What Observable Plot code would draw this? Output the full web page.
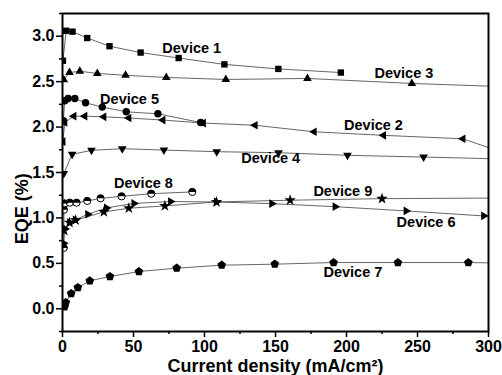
<!DOCTYPE html>
<html><head><meta charset="utf-8">
<script src="https://cdn.jsdelivr.net/npm/d3@7"></script>
<script src="https://cdn.jsdelivr.net/npm/@observablehq/plot@0.6"></script>
<style>body{margin:0;background:#fff}svg{font-family:"Liberation Sans",Arial,sans-serif}svg text{font-weight:bold}g[aria-label="x-axis label"] text{font-size:18px}g[aria-label="y-title"] text{font-size:18px}</style>
</head><body><div id="chart"></div>
<script>
// [current density (mA/cm²), EQE (%)]
const device1 = [[0.3,2.73],[2.6,3.06],[7.05,3.05],[17.4,2.98],[33.1,2.89],[55,2.82],[81.8,2.76],[114,2.69],[152,2.64],[196,2.60]];
const device2 = [[0.3,1.84],[1.6,2.05],[8.0,2.12],[15.7,2.12],[29.1,2.113],[46.7,2.10],[70.7,2.077],[99.2,2.044],[135.6,2.02],[177.2,1.948],[226.1,1.909],[282,1.871],[310,1.72]];
const device3 = [[0.9,2.52],[4.9,2.60],[12.2,2.615],[24.5,2.59],[44.4,2.57],[73.1,2.546],[115,2.524],[172.5,2.535],[246,2.48],[320,2.44]];
const device4 = [[0.9,1.49],[6.8,1.70],[20.4,1.744],[42.1,1.762],[71.4,1.747],[108.6,1.729],[152.1,1.718],[200.7,1.689],[254.3,1.670],[320,1.645]];
const device5 = [[0.6,2.07],[1.6,2.29],[4.0,2.315],[8.7,2.315],[16.2,2.267],[28,2.22],[44.9,2.168],[67.2,2.146],[97.3,2.05]];
const device6 = [[0.8,0.72],[1.6,0.88],[5,0.95],[9,0.98],[17.8,1.04],[31,1.11],[50.3,1.16],[76.1,1.18],[108.4,1.176],[147.4,1.157],[192,1.124],[242,1.077],[296.6,1.022],[320,0.99]];
const device7 = [[1.4,0.022],[2.3,0.069],[6.1,0.168],[10.8,0.234],[19.2,0.308],[33.4,0.355],[53.8,0.41],[80.4,0.447],[112.1,0.48],[149.5,0.491],[190.9,0.509],[236.2,0.509],[285.8,0.509],[320,0.50]];
const device8 = [[0.9,0.67],[1.0,1.09],[1.6,1.16],[5.1,1.168],[9.9,1.168],[17.4,1.187],[26.8,1.216],[41.6,1.238],[62.5,1.267],[91.4,1.286]];
const device9 = [[1.2,0.86],[4.9,0.948],[9.2,0.975],[29.1,1.066],[46.7,1.107],[72.1,1.132],[108.4,1.176],[160.3,1.195],[225,1.212],[320,1.22]];

const labelNames = ["Device 1","Device 3","Device 5","Device 2","Device 4","Device 8","Device 9","Device 6","Device 7"];
const labelX = [91, 240.4, 47.2, 219, 146.6, 57, 197.4, 256, 204.5];
const labelY = [2.87, 2.59, 2.30, 2.02, 1.66, 1.385, 1.297, 0.956, 0.396];

const xTicks = [0,50,100,150,200,250,300];
const xMinor = [25,75,125,175,225,275];
const yTicks = [0,0.5,1.0,1.5,2.0,2.5,3.0];
const yMinor = [-0.25,0.25,0.75,1.25,1.75,2.25,2.75,3.25];
const yTitle = "EQE (%)";
const yTitleAt = 1.1;
const xTitle = "Current density (mA/cm²)";

function poly(n, startDeg, k) {
  return {draw(ctx, size) {
    const R = Math.sqrt(size / Math.PI) * k;
    for (let i = 0; i < n; i++) {
      const a = (startDeg + 360 * i / n) * Math.PI / 180;
      const px = R * Math.cos(a), py = R * Math.sin(a);
      if (i === 0) ctx.moveTo(px, py); else ctx.lineTo(px, py);
    }
    ctx.closePath();
  }};
}
const triUp = poly(3, -90, 1.35), triDown = poly(3, 90, 1.35), triLeft = poly(3, 180, 1.35), triRight = poly(3, 0, 1.35);
const square = poly(4, 45, 1.25), pentagon = poly(5, -90, 1.2);
const topHalf = {draw(ctx, size) { const R = Math.sqrt(size / Math.PI); ctx.moveTo(R, 0); ctx.arc(0, 0, R, 0, Math.PI, true); ctx.closePath(); }};

const series = [
  {pts: device1, sym: square, r: 3.6},
  {pts: device2, sym: triLeft, r: 3.7},
  {pts: device3, sym: triUp, r: 3.7},
  {pts: device4, sym: triDown, r: 3.7},
  {pts: device5, sym: "circle", r: 3.7},
  {pts: device6, sym: triRight, r: 3.7},
  {pts: device7, sym: pentagon, r: 3.8},
  {pts: device9, sym: "star", r: 3.6}
];

const marks = [];
for (const s of series) {
  marks.push(Plot.line(s.pts, {x: d => d[0], y: d => d[1], stroke: "#555", strokeWidth: 0.9, clip: true}));
}
marks.push(Plot.line(device8, {x: d => d[0], y: d => d[1], stroke: "#555", strokeWidth: 0.9, clip: true}));
for (const s of series) {
  marks.push(Plot.dot(s.pts, {x: d => d[0], y: d => d[1], symbol: s.sym, r: s.r, fill: "black", clip: true}));
}
marks.push(Plot.dot(device8, {x: d => d[0], y: d => d[1], r: 3.6, fill: "white", stroke: "black", strokeWidth: 1, clip: true}));
marks.push(Plot.dot(device8, {x: d => d[0], y: d => d[1], r: 3.6, symbol: topHalf, fill: "black", clip: true}));

marks.push(Plot.text(labelNames, {x: (d, i) => labelX[i], y: (d, i) => labelY[i], text: d => d, fontSize: 14.5, fontWeight: "bold", fill: "black"}));

marks.push(Plot.axisX(xTicks, {tickSize: 6, tickPadding: 3, fontSize: 16, fontWeight: "bold", strokeWidth: 1.5, label: xTitle, labelAnchor: "center", labelOffset: 40, labelArrow: "none", color: "black"}));
marks.push(Plot.axisX(xMinor, {tickSize: 3, strokeWidth: 1.5, tickFormat: () => "", label: null}));
marks.push(Plot.axisY(yTicks, {tickSize: 6, tickPadding: 2, fontSize: 16, fontWeight: "bold", strokeWidth: 1.5, tickFormat: d3.format(".1f"), label: null, color: "black"}));
marks.push(Plot.axisY(yMinor, {tickSize: 3, strokeWidth: 1.5, tickFormat: () => "", label: null}));
marks.push(Plot.text([yTitle], {frameAnchor: "left", y: () => yTitleAt, rotate: -90, dx: -40, textAnchor: "middle", fontSize: 18, fontWeight: "bold", fill: "black", text: d => d, ariaLabel: "y-title"}));
marks.push(Plot.frame({stroke: "black", strokeWidth: 2}));

const chart = Plot.plot({
  width: 502, height: 375,
  marginLeft: 62, marginRight: 14, marginTop: 13, marginBottom: 44,
  x: {domain: [0, 300]},
  y: {domain: [-0.25, 3.25]},
  style: {fontFamily: '"Liberation Sans", Arial, sans-serif', color: "black", background: "white"},
  marks
});
document.getElementById("chart").appendChild(chart);
</script>
</body></html>
